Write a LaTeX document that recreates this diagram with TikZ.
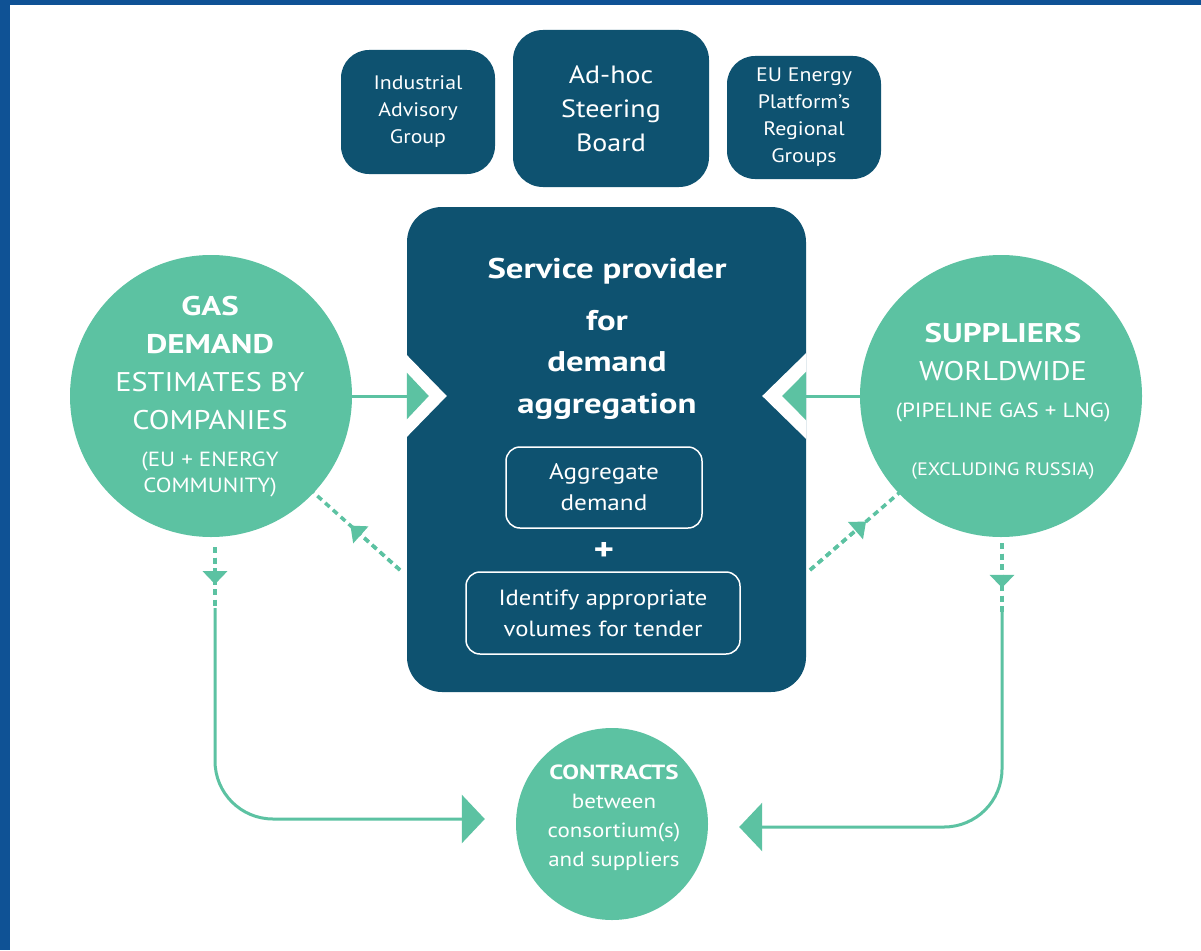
\documentclass[tikz,border=0pt]{standalone}
\usepackage{fontspec}
\setmainfont{PT Sans}[FakeStretch=1.12, BoldFeatures={FakeStretch=1.22}]
\usetikzlibrary{arrows.meta,calc}
\definecolor{egreen}{HTML}{5CC2A2}
\definecolor{edark}{HTML}{0E5270}
\definecolor{eblue}{HTML}{0F5295}
\begin{document}
\begin{tikzpicture}[x=1pt,y=-1pt,
  darkbox/.style={fill=edark, draw=none, rectangle, text=white, align=center, inner sep=0pt},
  circ/.style={circle, fill=egreen, draw=none, inner sep=0pt},
  wtext/.style={text=white, align=center, inner sep=0pt},
  inbox/.style={rectangle, draw=white, line width=1.5pt, rounded corners=14pt, text=white, align=center, inner sep=0pt},
  gline/.style={draw=egreen, line width=3pt},
  gdash/.style={draw=egreen, line width=3.5pt, dash pattern=on 6pt off 4.5pt},
  bigtip/.style={-{Triangle[length=23pt,width=48pt]}},
  smalltip/.style={-{Triangle[length=14pt,width=22pt]}}
]
\useasboundingbox (0,0) rectangle (1201,950);
\fill[white] (0,0) rectangle (1201,950);
\fill[eblue] (0,0) rectangle (10,950);
\fill[eblue] (0,0) rectangle (1201,5);

% top boxes
\node[darkbox, rounded corners=28pt, minimum width=154pt, minimum height=124pt,
      font=\fontsize{19.5}{27}\selectfont] (iag) at (418,112) {Industrial\\Advisory\\Group};
\node[darkbox, rounded corners=30pt, minimum width=196pt, minimum height=157pt,
      font=\fontsize{25}{34}\selectfont] (asb) at (611,108.5) {Ad-hoc\\Steering\\Board};
\node[darkbox, rounded corners=28pt, minimum width=154pt, minimum height=123pt,
      font=\fontsize{19.5}{27}\selectfont] (eep) at (804,117.5) {EU Energy\\Platform’s\\Regional\\Groups};

% main box
\node[darkbox, rounded corners=35pt, minimum width=399pt, minimum height=485pt] (main) at (606.5,449.5) {};
\node[wtext, font=\fontsize{28.5}{41.5}\selectfont\bfseries] (mt1) at (607,271) {Service provider};
\node[wtext, font=\fontsize{28.5}{41.5}\selectfont\bfseries] (mt2) at (607,364.5) {for\\demand\\aggregation};
\node[inbox, minimum width=196pt, minimum height=81pt, font=\fontsize{22.5}{31}\selectfont] (agg) at (604,487.5) {Aggregate\\demand};
\node[wtext, font=\fontsize{32}{32}\selectfont\bfseries] (plus) at (604,551) {+};
\node[inbox, minimum width=274pt, minimum height=82pt, font=\fontsize{22}{31}\selectfont] (idv) at (603,613) {Identify appropriate\\volumes for tender};

% circles
\node[circ, minimum size=282pt] (gas) at (211,396) {};
\node[wtext, font=\fontsize{27}{38}\selectfont] (gast) at (210,363) {\textbf{GAS}\\\textbf{DEMAND}\\ESTIMATES BY\\COMPANIES};
\node[wtext, font=\fontsize{20.5}{26}\selectfont] (gass) at (210,474) {(EU + ENERGY\\COMMUNITY)};

\node[circ, minimum size=282pt] (sup) at (1001,396) {};
\node[wtext, font=\fontsize{27}{38}\selectfont] (supt) at (1003,352) {\textbf{SUPPLIERS}\\WORLDWIDE};
\node[wtext, font=\fontsize{20.5}{26}\selectfont] (sup1) at (1003,412) {(PIPELINE GAS + LNG)};
\node[wtext, font=\fontsize{18}{26}\selectfont] (sup2) at (1003,471) {(EXCLUDING RUSSIA)};

\node[circ, minimum size=192pt] (cont) at (612,824) {};
\node[wtext, font=\fontsize{20.5}{29}\selectfont] (contt) at (614,817.5) {\textbf{CONTRACTS}\\between\\consortium(s)\\and suppliers};

% arrows into main box
\coordinate (lt) at (gas.east -| main.west);
\fill[white] (lt) ++(0,-41) -- ++(40,41) -- ++(-40,41) -- cycle;
\draw[gline, -{Triangle[length=22pt,width=46pt]}] (gas.east) -- ($(lt)+(22,0)$);

\coordinate (rt) at (sup.west -| main.east);
\fill[white] (rt) ++(0,-43) -- ++(-44,43) -- ++(44,43) -- cycle;
\draw[gline, -{Triangle[length=24pt,width=48pt]}] (sup.west) -- ($(rt)+(-24,0)$);

% dashed diagonals
\coordinate (dl) at (400,570);
\coordinate (gasD) at ($(gas.center)+(102,96)$);
\draw[gdash] (dl) -- (gasD);
\draw[gdash, smalltip] (dl) -- ($(dl)!0.57!(gasD)$);
\coordinate (dr) at (810,570);
\coordinate (supD) at ($(sup.center)+(-102,97)$);
\draw[gdash] (dr) -- (supD);
\draw[gdash, smalltip] (dr) -- ($(dr)!0.63!(supD)$);

% left loop to contracts
\coordinate (L1) at (215,547);
\coordinate (L2) at (215,608);
\draw[gdash] (L1) -- (L2);
\draw[gdash, -{Triangle[length=13pt,width=24pt]}] (L1) -- ($(L1)!0.61!(L2)$);
\draw[gline, rounded corners=58pt, bigtip] (L2) |- ($(cont.west)+(-31,-5)$);

% right loop to contracts
\coordinate (R1) at (1002,543);
\coordinate (R2) at (1002,612);
\draw[gdash] (R1) -- (R2);
\draw[gdash, -{Triangle[length=13pt,width=24pt]}] (R1) -- ($(R1)!0.65!(R2)$);
\draw[gline, rounded corners=58pt, bigtip] (R2) |- ($(cont.east)+(31,3)$);
\end{tikzpicture}
\end{document}
